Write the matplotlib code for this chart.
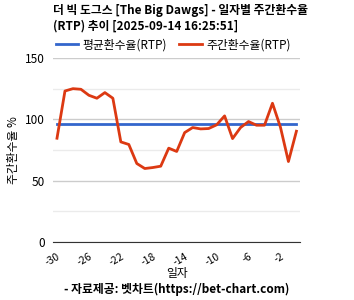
import matplotlib
matplotlib.use('Agg')
import numpy as np
from matplotlib import pyplot as plt
from matplotlib.lines import Line2D
from matplotlib.ticker import MultipleLocator

plt.rcParams['font.family'] = ['Noto Sans CJK KR', 'DejaVu Sans']

# 일자 (-30 ~ 0)
days = list(range(-30, 1))
# 주간환수율(RTP)
weekly_rtp = [84.6, 123.1, 125.0, 124.5, 119.6, 117.2, 121.8, 117.2, 81.6, 79.5,
              64.0, 59.9, 60.7, 61.8, 76.5, 73.8, 89.2, 93.3, 92.2, 92.5,
              95.5, 102.8, 84.3, 93.3, 98.2, 95.2, 95.2, 113.1, 93.6, 65.6, 90.3]
# 평균환수율(RTP)
avg_rtp = 96.3
x_ticks = list(range(-30, 0, 4))

title = '더 빅 도그스 [The Big Dawgs] - 일자별 주간환수율\n(RTP) 추이 [2025-09-14 16:25:51]'
BLUE = '#3366cc'
RED = '#dc3912'

fig = plt.figure(figsize=(3.54, 3.00), dpi=100)
W, H = 354, 300
ax = fig.add_axes([53 / W, 1 - 242 / H, (300 - 53) / W, (242 - 58) / H])

ax.plot(days, [avg_rtp] * len(days), color=BLUE, lw=2, zorder=3)
ax.plot(days, weekly_rtp, color=RED, lw=2, zorder=4)

ax.set_xlim(-30.5, 0.45)
ax.set_ylim(0, 150)
ax.yaxis.set_major_locator(MultipleLocator(50))
ax.yaxis.set_minor_locator(MultipleLocator(25))
ax.grid(which='major', axis='y', color='#cccccc', lw=1)
ax.grid(which='minor', axis='y', color='#ebebeb', lw=1)
ax.set_axisbelow(True)
for s in ['top', 'right', 'left']:
    ax.spines[s].set_visible(False)
ax.spines['bottom'].set_color('#333333')
ax.tick_params(which='both', length=0)
ax.tick_params(axis='y', labelsize=8.5, pad=6)
ax.set_xticks(x_ticks)
ax.set_xticklabels([str(t) for t in x_ticks], rotation=30, ha='right',
                   rotation_mode='anchor', fontsize=7.5)
ax.tick_params(axis='x', pad=7)

# y축 제목
fig.text(13 / W, 1 - 150 / H, '주간환수율 %', rotation=90, ha='center',
         va='center', fontsize=8.5)

fig.text(53 / W, 1 - 4 / H, title, ha='left', va='top', fontsize=8.5,
         fontweight='bold', linespacing=1.2)

handles = [Line2D([], [], color=BLUE, lw=2), Line2D([], [], color=RED, lw=2)]
fig.legend(handles, ['평균환수율(RTP)', '주간환수율(RTP)'], loc='center left',
           bbox_to_anchor=(45 / W, 1 - 45 / H), ncol=2, frameon=False,
           fontsize=8.5, handlelength=1.9, handletextpad=0.4, columnspacing=1.0)

fig.text(177 / W, 1 - 273 / H, '일자', ha='center', va='center', fontsize=8.5)
fig.text(177 / W, 1 - 289 / H, '- 자료제공: 벳차트(https://bet-chart.com)',
         ha='center', va='center', fontsize=8.5, fontweight='bold')

fig.savefig('out.png', dpi=100)
